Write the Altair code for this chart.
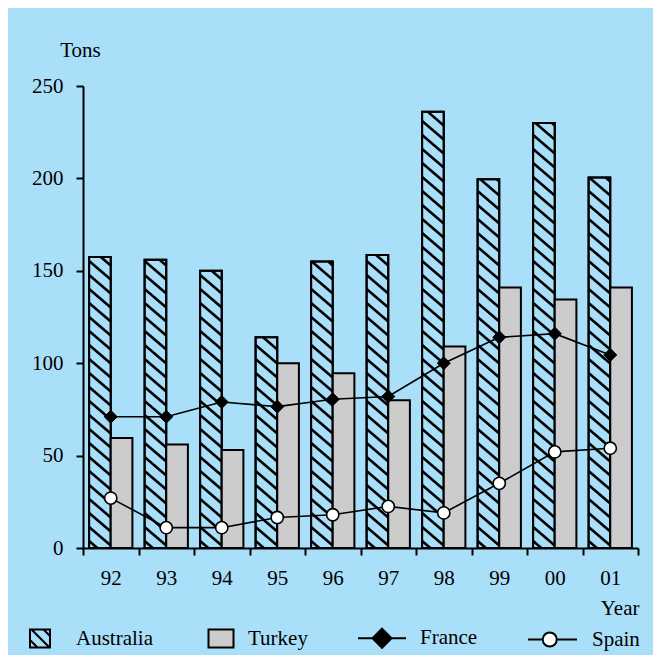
import json
import altair as alt
import pandas as pd

# ---- data ----
years = ["92", "93", "94", "95", "96", "97", "98", "99", "00", "01"]
australia = [157.5, 156, 150, 114, 155, 158.5, 236, 199.5, 230, 200.5]
turkey = [59.5, 56, 53, 100, 94.5, 80, 109, 141, 134.5, 141]
france = [71, 71, 79, 76.5, 80.5, 82, 100, 114, 116, 104.5]
spain = [27, 11, 11, 16.5, 18, 22.5, 19, 35, 52, 54]
series_names = ["Australia", "Turkey", "France", "Spain"]
y_ticks = [0, 50, 100, 150, 200, 250]

# ---- layout / style ----
W, H = 555, 462
YMAX = 250
N = len(years)
BG = "#aadffa"
GRAY = "#cccccc"
FONT = "'Liberation Serif', 'Times New Roman', serif"
FS = 21
BAR_L, BAR_M, BAR_R = 0.11, 0.5, 0.89
PX_X = W / N
PX_Y = H / YMAX
SLOPE = 0.85
SPACING = 14.0
BW = (BAR_M - BAR_L) * PX_X

df = pd.DataFrame({"idx": list(range(N)), "year": years,
                   "Australia": australia, "Turkey": turkey,
                   "France": france, "Spain": spain})
long = df.melt(id_vars=["idx", "year"], value_vars=series_names,
               var_name="series", value_name="value")

xs = alt.Scale(domain=[0, N], nice=False, zero=False)
ys = alt.Scale(domain=[0, YMAX], nice=False, zero=True)

label_expr = f"datum.value < {N} ? {json.dumps(years)}[datum.value] : ''"

x_axis = alt.Axis(values=list(range(N + 1)), labelExpr=label_expr, labelOffset=PX_X / 2,
                  tickSize=7, tickWidth=2, tickColor="black", domainColor="black", domainWidth=2,
                  labelFont=FONT, labelFontSize=FS, labelColor="black", labelBaseline="alphabetic",
                  labelPadding=29, labelAlign="center", labelFlush=False, labelOverlap=False,
                  grid=False, title="Year", titleX=556, titleY=66, titleAlign="right",
                  titleBaseline="alphabetic", titleFont=FONT, titleFontSize=FS,
                  titleFontWeight="normal", titleColor="black")
y_axis = alt.Axis(values=y_ticks, tickSize=7, tickWidth=2, tickColor="black", domainColor="black",
                  domainWidth=2, labelFont=FONT, labelFontSize=FS, labelColor="black",
                  labelPadding=13, labelFlush=False, labelOverlap=False, grid=False,
                  title="Tons", titleAngle=0, titleX=-3, titleY=-30, titleAlign="center",
                  titleBaseline="alphabetic", titleFont=FONT, titleFontSize=FS,
                  titleFontWeight="normal", titleColor="black")


def X(field):
    return alt.X(field, scale=xs, axis=x_axis)


def Y(field):
    return alt.Y(field, scale=ys, axis=y_axis)


# Australia bars (background fill)
aus = alt.Chart(df).transform_calculate(
    bx1=f"datum.idx + {BAR_L}", bx2=f"datum.idx + {BAR_M}"
)
aus_fill = aus.mark_rect(fill=BG, stroke="black", strokeWidth=2).encode(
    x=X("bx1:Q"), x2="bx2:Q", y=Y("Australia:Q"), y2=alt.datum(0),
)

# hatch lines inside the Australia bars
hatch = alt.Chart(df).transform_calculate(
    h=f"datum.Australia * {PX_Y}"
).transform_calculate(
    c=f"sequence({SPACING / 2}, datum.h + {SLOPE * BW}, {SPACING})"
).transform_flatten(["c"]).transform_calculate(
    xs_=f"max(0, (datum.c - datum.h) / {SLOPE})"
).transform_calculate(
    xe_=f"min({BW}, datum.c / {SLOPE})"
).transform_calculate(
    hx1=f"datum.idx + {BAR_L} + datum.xs_ / {PX_X}"
).transform_calculate(
    hx2=f"datum.idx + {BAR_L} + datum.xe_ / {PX_X}"
).transform_calculate(
    hy1=f"(datum.c - {SLOPE} * datum.xs_) / {PX_Y}"
).transform_calculate(
    hy2=f"(datum.c - {SLOPE} * datum.xe_) / {PX_Y}"
).mark_rule(color="black", strokeWidth=2.6).encode(
    x=X("hx1:Q"), x2="hx2:Q", y=Y("hy1:Q"), y2="hy2:Q",
)

aus_outline = aus.mark_rect(fill=None, fillOpacity=0, stroke="black", strokeWidth=2).encode(
    x=X("bx1:Q"), x2="bx2:Q", y=Y("Australia:Q"), y2=alt.datum(0),
)

tur = alt.Chart(df).transform_calculate(
    bx1=f"datum.idx + {BAR_M}", bx2=f"datum.idx + {BAR_R}"
).mark_rect(fill=GRAY, stroke="black", strokeWidth=2).encode(
    x=X("bx1:Q"), x2="bx2:Q", y=Y("Turkey:Q"), y2=alt.datum(0),
)

lines_base = alt.Chart(long).transform_filter(
    alt.FieldOneOfPredicate(field="series", oneOf=["France", "Spain"])
).transform_calculate(cx="datum.idx + 0.5")

lines = lines_base.mark_line(color="black", strokeWidth=1.6).encode(
    x=X("cx:Q"), y=Y("value:Q"), detail="series:N",
)

fr_pts = lines_base.transform_filter(alt.datum.series == "France").mark_point(
    shape="diamond", filled=True, fill="black", stroke="black", strokeWidth=1,
    size=170, opacity=1
).encode(x=X("cx:Q"), y=Y("value:Q"))

sp_pts = lines_base.transform_filter(alt.datum.series == "Spain").mark_point(
    shape="circle", filled=True, fill="white", stroke="black", strokeWidth=1.6,
    size=150, opacity=1
).encode(x=X("cx:Q"), y=Y("value:Q"))


# ---- legend symbols (unit = 25px) ----
def hatch_box(a, b, c, d, ks):
    p = f"M{a},{c}H{b}V{d}H{a}Z"
    for k in ks:
        x1 = max(a, k + c)
        x2 = min(b, k + d)
        p += f"M{x1:.3f},{x1 - k:.3f}L{x2:.3f},{x2 - k:.3f}"
    return p


aus_sym = hatch_box(-0.32, 0.48, -0.36, 0.36, [-0.38, 0.1, 0.58])
tur_sym = "M-0.06,-0.36H0.94V0.36H-0.06Z"
fra_sym = "M-0.96,0H0.96M0,-0.38L0.38,0L0,0.38L-0.38,0Z"
spa_sym = ("M-1.04,0H-0.45M0.11,0H0.92"
           "M0.11,0A0.28,0.28 0 1,1 -0.45,0A0.28,0.28 0 1,1 0.11,0Z")
legend_shapes = [aus_sym, tur_sym, fra_sym, spa_sym]
legend_fills = [BG, GRAY, "black", "white"]
legend_strokes = ["black", "black", "black", "black"]

leg = alt.Legend(orient="none", legendX=-71, legendY=526, direction="horizontal", columns=4,
                 gridAlign="all", columnPadding=27, labelOffset=12, symbolSize=2500,
                 labelFont=FONT, labelFontSize=FS, labelColor="black", title=None, padding=0,
                 symbolStrokeWidth=2, symbolStrokeColor="black", symbolOpacity=1)

legend_layer = alt.Chart(pd.DataFrame({"series": series_names})).transform_filter(
    "false"
).mark_point(filled=True, strokeWidth=2, opacity=1).encode(
    fill=alt.Fill("series:N", scale=alt.Scale(domain=series_names, range=legend_fills), legend=leg),
    shape=alt.Shape("series:N", scale=alt.Scale(domain=series_names, range=legend_shapes), legend=leg),
    stroke=alt.Stroke("series:N", scale=alt.Scale(domain=series_names, range=legend_strokes), legend=leg),
)

chart = alt.layer(
    aus_fill, hatch, aus_outline, tur, lines, fr_pts, sp_pts, legend_layer
).properties(
    width=W, height=H, background=BG,
    padding={"left": 75, "top": 78, "right": 15, "bottom": 107},
    autosize=alt.AutoSizeParams(type="none"),
).configure_view(stroke=None)

chart.save("out.html", embed_options={"renderer": "svg", "actions": False})
